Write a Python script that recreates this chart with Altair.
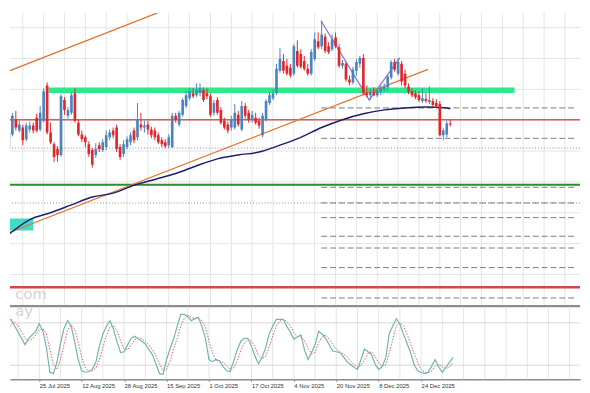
import altair as alt
import pandas as pd

# ---------------- data (price units) ----------------
candle_open = [853, 868, 883, 872, 875, 863, 873, 877, 885, 873, 882, 918, 870, 858, 853, 847,
               903, 887, 890, 910, 880, 868, 865, 858, 852, 847, 857, 852, 855, 865, 872, 875,
               855, 848, 855, 860, 872, 865, 878, 875, 878, 873, 872, 867, 862, 860, 857, 855,
               887, 878, 888, 897, 905, 910, 908, 910, 913, 910, 907, 890, 903, 893, 882, 878,
               875, 875, 888, 873, 897, 890, 883, 885, 882, 867, 883, 900, 905, 910, 933, 943,
               938, 936, 930, 953, 950, 943, 935, 930, 945, 963, 958, 968, 958, 955, 967, 957,
               938, 940, 924, 921, 933, 940, 946, 910, 908, 911, 908, 912, 914, 916, 926, 942,
               930, 940, 930, 917, 912, 910, 908, 902, 904, 901, 902, 900, 899, 867, 868, 879]
candle_high = [877, 890, 892, 882, 878, 880, 881, 880, 889, 897, 915, 921, 880, 860, 856, 909,
               906, 896, 911, 915, 883, 872, 867, 861, 854, 859, 860, 863, 872, 873, 875, 878,
               858, 862, 866, 870, 875, 900, 890, 882, 882, 876, 875, 870, 865, 863, 868, 890,
               890, 892, 905, 912, 915, 915, 920, 920, 916, 915, 910, 903, 906, 896, 885, 881,
               887, 899, 892, 902, 900, 893, 892, 890, 885, 890, 904, 911, 914, 940, 956, 950,
               945, 940, 960, 964, 955, 948, 940, 955, 972, 972, 984, 971, 962, 970, 972, 960,
               944, 942, 928, 937, 945, 948, 950, 918, 915, 916, 915, 918, 920, 929, 944, 945,
               946, 943, 934, 920, 915, 913, 912, 915, 910, 917, 905, 904, 902, 874, 882, 883]
candle_low = [842, 866, 872, 870, 857, 861, 870, 869, 870, 871, 880, 868, 858, 840, 840, 845,
              888, 884, 888, 880, 866, 860, 855, 845, 834, 844, 850, 850, 852, 862, 864, 850,
              842, 845, 853, 857, 859, 862, 872, 870, 868, 864, 862, 858, 855, 854, 854, 854,
              880, 876, 886, 895, 903, 905, 906, 907, 901, 904, 886, 887, 888, 878, 873, 869,
              872, 873, 876, 871, 884, 880, 880, 878, 874, 865, 881, 898, 903, 908, 931, 930,
              928, 926, 928, 936, 935, 933, 928, 928, 943, 955, 955, 951, 950, 953, 956, 936,
              935, 922, 918, 919, 928, 936, 908, 906, 903, 907, 906, 908, 912, 912, 924, 932,
              928, 918, 915, 909, 906, 904, 901, 900, 900, 899, 896, 895, 866, 862, 865, 876]
candle_close = [870, 887, 875, 878, 862, 877, 877, 872, 872, 890, 912, 870, 860, 845, 847, 907,
                893, 893, 908, 882, 868, 863, 860, 848, 837, 853, 853, 860, 867, 870, 867, 853,
                845, 858, 863, 867, 862, 883, 875, 877, 873, 867, 865, 860, 858, 856, 865, 887,
                883, 890, 903, 908, 912, 907, 913, 915, 903, 907, 888, 900, 890, 880, 875, 872,
                883, 890, 878, 897, 887, 883, 888, 880, 877, 887, 902, 908, 910, 935, 945, 933,
                930, 928, 958, 938, 937, 935, 930, 952, 965, 957, 970, 953, 952, 965, 958, 938,
                941, 924, 921, 934, 942, 946, 910, 908, 911, 908, 913, 915, 917, 927, 942, 934,
                942, 922, 918, 911, 908, 906, 903, 905, 902, 903, 898, 897, 867, 872, 879, 878]

stoch_main = [65, 82, 85, 76, 67, 58, 49, 58, 63, 68, 79, 69, 46, 10, 8, 24,
              51, 72, 83, 76, 54, 28, 12, 10, 11, 14, 24, 47, 64, 75, 83, 71,
              53, 38, 39, 49, 58, 61, 57, 54, 50, 42, 35, 22, 8, 7, 28, 43,
              57, 75, 92, 92, 89, 83, 86, 88, 75, 58, 28, 25, 28, 26, 18, 12,
              11, 26, 42, 54, 58, 58, 47, 33, 22, 31, 44, 64, 75, 85, 85, 85,
              75, 67, 57, 60, 63, 42, 28, 38, 49, 68, 64, 58, 49, 40, 39, 38,
              32, 25, 21, 17, 14, 28, 43, 39, 35, 21, 14, 18, 31, 65, 76, 86,
              78, 64, 51, 38, 21, 12, 10, 8, 10, 19, 28, 17, 10, 17, 24, 31]
stoch_signal = [60, 70, 77, 81, 76, 67, 58, 55, 57, 63, 70, 72, 65, 42, 21, 14,
                28, 49, 69, 77, 71, 53, 31, 17, 11, 12, 16, 28, 45, 62, 74, 76,
                69, 54, 43, 42, 49, 56, 59, 57, 54, 49, 42, 33, 22, 12, 14, 26,
                43, 58, 75, 86, 91, 88, 86, 86, 83, 74, 54, 37, 27, 26, 24, 19,
                14, 16, 26, 41, 51, 57, 54, 46, 34, 29, 32, 46, 61, 75, 82, 85,
                82, 76, 66, 61, 60, 55, 44, 36, 38, 52, 60, 63, 57, 49, 43, 39,
                36, 32, 26, 21, 17, 20, 28, 37, 39, 32, 23, 18, 21, 38, 57, 76,
                80, 76, 64, 51, 37, 24, 14, 10, 9, 12, 19, 21, 18, 15, 17, 24]

ma_bar = [0, 6, 12, 18, 24, 30, 36, 42, 48, 54, 60, 66, 72, 78, 84, 90, 96, 102, 108, 114, 120, 126, 127]
ma_value = [766, 781, 788, 796, 804, 808, 816, 822, 828, 836, 843, 847, 850, 857, 865, 875, 883,
            889, 893, 895, 896, 895, 894]

date_label_bar = [-2, 10, 22, 34, 46, 58, 70, 82, 94, 106, 118]
date_labels = ["9 Jul 2025", "25 Jul 2025", "12 Aug 2025", "28 Aug 2025", "15 Sep 2025",
               "1 Oct 2025", "17 Oct 2025", "4 Nov 2025", "20 Nov 2025", "8 Dec 2025", "24 Dec 2025"]

grid_bar = list(range(4, 163, 6))
grid_price = [977, 945.5, 914, 882.5, 851, 819.5, 788, 756.5, 725]

red_level = [883]
red_thick_level = [712]
green_level = [816.5]
dotted_levels = [854, 798]
dashed_levels = [895, 864, 814, 798, 783, 764, 752, 732, 701]
dashed_start_bar = 89.9
zone_price = [913]
zone_bar = [11.4, 145.5]
box_bar = [-0.5, 7.0]
box_price = [770, 782]
chan_upper_bar = [-0.5, 48.5]
chan_upper_price = [932, 1000]
chan_lower_bar = [-0.5, 120.6]
chan_lower_price = [767, 934.4]
zig_bar = [89.8, 103.7, 112.5]
zig_price = [984, 903, 946]
stoch_levels = [20, 80]
watermark = ["com", "ay"]

# ---------------- scales ----------------
X_MIN, X_MAX = 1.717, 162.94
xs = alt.Scale(domain=[X_MIN, X_MAX], nice=False, zero=False)
ys = alt.Scale(domain=[692, 992], nice=False, zero=False)
ss = alt.Scale(domain=[0, 102.8], nice=False, zero=False)

GRID = "#E3E3E3"
BULL = "#4A84BE"
BEAR = "#E2262B"
W = 582
LABEL_FONT = "Liberation Sans"
LABEL_SIZE = 6


def X(f, **kw):
    return alt.X(f, type="quantitative", scale=xs, axis=None, **kw)


def Y(f, sc=ys):
    return alt.Y(f, type="quantitative", scale=sc, axis=None)


candles = pd.DataFrame({"i": range(len(candle_open)), "open": candle_open, "high": candle_high,
                        "low": candle_low, "close": candle_close})
candles["dir"] = ["up" if c >= o else "down" for o, c in zip(candle_open, candle_close)]
dir_color = alt.Color("dir:N", scale=alt.Scale(domain=["up", "down"], range=[BULL, BEAR]), legend=None)

vgrid_df = pd.DataFrame({"i": grid_bar})

# ---------------- price panel ----------------
vgrid = alt.Chart(vgrid_df).mark_rule(color=GRID, strokeWidth=1).encode(x=X("i"))
hgrid = alt.Chart(pd.DataFrame({"p": grid_price})).mark_rule(color=GRID, strokeWidth=1).encode(y=Y("p"))

box = alt.Chart(pd.DataFrame({"a": [box_bar[0]], "b": [box_bar[1]], "p": [box_price[0]], "q": [box_price[1]]})).mark_rect(
    color="#3FDCC8", clip=True).encode(x=X("a"), x2="b", y=Y("p"), y2="q")

dotted = alt.Chart(pd.DataFrame({"p": dotted_levels})).mark_rule(
    color="#8A8A8A", strokeWidth=1, strokeDash=[1, 2]).encode(y=Y("p"))
dashed = alt.Chart(pd.DataFrame({"p": dashed_levels, "a": dashed_start_bar, "b": X_MAX})).mark_rule(
    color="#7A7A7A", strokeWidth=1, strokeDash=[6, 3]).encode(x=X("a"), x2="b", y=Y("p"))
red_line = alt.Chart(pd.DataFrame({"p": red_level})).mark_rule(
    color="#DE5A52", strokeWidth=1.5).encode(y=Y("p"))
red_thick = alt.Chart(pd.DataFrame({"p": red_thick_level})).mark_rule(
    color="#D04848", strokeWidth=2.5).encode(y=Y("p"))
green_line = alt.Chart(pd.DataFrame({"p": green_level})).mark_rule(
    color="#2E8B2E", strokeWidth=2).encode(y=Y("p"))
zone = alt.Chart(pd.DataFrame({"p": zone_price, "a": zone_bar[0], "b": zone_bar[1]})).mark_rule(
    color="#2BEA8C", strokeWidth=5.5).encode(x=X("a"), x2="b", y=Y("p"))

chan_df = pd.DataFrame({"a": [chan_upper_bar[0], chan_lower_bar[0]], "b": [chan_upper_bar[1], chan_lower_bar[1]],
                        "p": [chan_upper_price[0], chan_lower_price[0]], "q": [chan_upper_price[1], chan_lower_price[1]]})
channel = alt.Chart(chan_df).mark_rule(color="#E2742F", strokeWidth=1.3, clip=True).encode(
    x=X("a"), x2="b", y=Y("p"), y2="q")

ma = alt.Chart(pd.DataFrame({"i": ma_bar, "p": ma_value})).mark_line(
    color="#1B1F6E", strokeWidth=1.5, interpolate="monotone", clip=True).encode(x=X("i"), y=Y("p"))

zig = alt.Chart(pd.DataFrame({"i": zig_bar, "p": zig_price})).mark_line(
    color="#9274D6", strokeWidth=1.3).encode(x=X("i"), y=Y("p"))

wicks = alt.Chart(candles).mark_rule(strokeWidth=1, clip=True).encode(
    x=X("i"), y=Y("low"), y2="high", color=dir_color)
bodies = alt.Chart(candles).mark_bar(size=2.7, clip=True).encode(
    x=X("i"), y=Y("open"), y2="close", color=dir_color)

sep = alt.Chart(pd.DataFrame({"p": [692.6]})).mark_rule(color="#8C8C8C", strokeWidth=2.2).encode(y=Y("p"))

wm = alt.Chart(pd.DataFrame({"i": [1.86, 1.86], "p": [700, 683], "t": watermark})).mark_text(
    align="left", baseline="alphabetic", fontSize=15, font="DejaVu Sans", color="#D2D2D2").encode(
    x=X("i"), y=Y("p"), text="t:N")

price_panel = alt.layer(vgrid, hgrid, box, dotted, dashed, red_line, red_thick, green_line, zone,
                        channel, ma, zig, wicks, bodies, wm, sep).properties(width=W, height=300)

# ---------------- stochastic panel ----------------
stoch_df = pd.DataFrame({"i": range(len(stoch_main)), "main": stoch_main, "signal": stoch_signal})

label_expr = "[" + ",".join("'%s'" % s for s in date_labels) + "][(datum.value + 2) / 12]"
x_axis = alt.Axis(values=date_label_bar, labelExpr=label_expr, grid=False, labelAlign="left",
                  labelBaseline="top", labelFontSize=LABEL_SIZE, labelFont=LABEL_FONT,
                  labelColor="#333333", labelPadding=1.5,
                  tickSize=2, tickColor="#777777", domainColor="#8C8C8C", domainWidth=1.5,
                  labelOverlap=False, labelFlush=False, labelBound=False, title=None)


def XB(f):
    return alt.X(f, type="quantitative", scale=xs, axis=x_axis)


vgrid2 = alt.Chart(vgrid_df).mark_rule(color=GRID, strokeWidth=1).encode(x=XB("i"))
lv = alt.Chart(pd.DataFrame({"s": stoch_levels})).mark_rule(color="#D6D6D6", strokeWidth=1).encode(
    y=Y("s", ss))
sig = alt.Chart(stoch_df).mark_line(color="#E05A5A", strokeWidth=1, strokeDash=[1.5, 1.5], clip=True).encode(
    x=XB("i"), y=Y("signal", ss))
main = alt.Chart(stoch_df).mark_line(color="#6FB3B3", strokeWidth=1.2, clip=True).encode(
    x=XB("i"), y=Y("main", ss))

stoch_panel = alt.layer(vgrid2, lv, sig, main).properties(width=W, height=74)

chart = alt.vconcat(price_panel, stoch_panel, spacing=0, bounds="flush").properties(
    padding=0, background="white"
).configure_view(stroke=None)

chart.save("out.html", embed_options={"renderer": "svg", "actions": False})
